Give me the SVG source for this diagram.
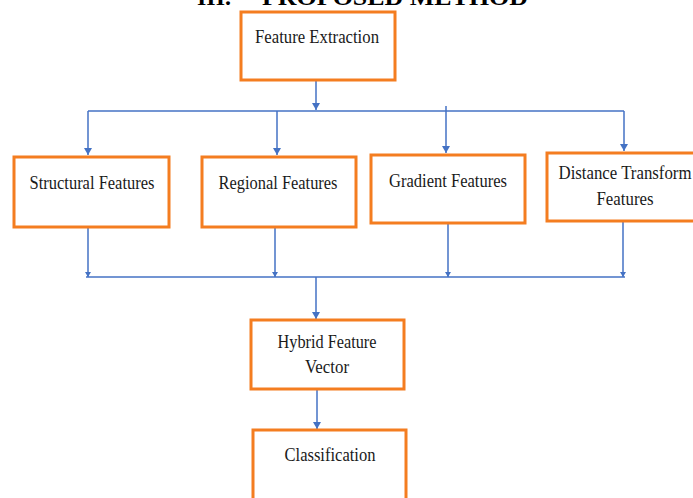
<svg xmlns="http://www.w3.org/2000/svg" width="693" height="498" viewBox="0 0 693 498">
<defs>
<marker id="ah" markerUnits="userSpaceOnUse" markerWidth="8" markerHeight="8" viewBox="0 0 8 8" refX="4" refY="8" orient="auto-start-reverse">
<path d="M0,0 L8,0 L4,8 Z" fill="#4472C4" transform="rotate(0)"/>
</marker>
<style>
.box{fill:#fff;stroke:#F47D20;stroke-width:3}
.lbl{font-family:"Liberation Serif","Times New Roman",serif;font-size:18px;fill:#1a1a1a;text-anchor:middle}
.title{font-family:"Liberation Serif","Times New Roman",serif;font-size:24px;font-weight:bold;fill:#000}
.ln{stroke:#4472C4;stroke-width:1.5;fill:none}
.ar{stroke:#4472C4;stroke-width:1.5;fill:none}
</style>
</defs>
<rect width="693" height="498" fill="#fff"/>
<text class="title" x="197" y="5" textLength="34" lengthAdjust="spacingAndGlyphs">III.</text>
<text class="title" x="262" y="5" textLength="266" lengthAdjust="spacingAndGlyphs">PROPOSED METHOD</text>

<g id="connectors">
<line class="ln" x1="316" y1="80" x2="316" y2="110"/>
<path d="M312,103 L320,103 L316,110 Z" fill="#4472C4"/>
<line class="ln" x1="88" y1="111" x2="624" y2="111"/>
<line class="ln" x1="88" y1="111" x2="88" y2="155"/>
<path d="M84,148 L92,148 L88,155 Z" fill="#4472C4"/>
<line class="ln" x1="277" y1="111" x2="277" y2="155"/>
<path d="M273,148 L281,148 L277,155 Z" fill="#4472C4"/>
<line class="ln" x1="446" y1="106" x2="446" y2="153"/>
<path d="M442,146 L450,146 L446,153 Z" fill="#4472C4"/>
<line class="ln" x1="624" y1="111" x2="624" y2="151"/>
<path d="M620,144 L628,144 L624,151 Z" fill="#4472C4"/>

<line class="ln" x1="88" y1="228" x2="88" y2="277"/>
<path d="M85,272 L91,272 L88,277 Z" fill="#4472C4"/>
<line class="ln" x1="275" y1="228" x2="275" y2="277"/>
<path d="M272,272 L278,272 L275,277 Z" fill="#4472C4"/>
<line class="ln" x1="448" y1="224" x2="448" y2="277"/>
<path d="M445,272 L451,272 L448,277 Z" fill="#4472C4"/>
<line class="ln" x1="623" y1="222" x2="623" y2="277"/>
<path d="M620,272 L626,272 L623,277 Z" fill="#4472C4"/>
<line class="ln" x1="86" y1="277" x2="625" y2="277"/>

<line class="ln" x1="316" y1="277" x2="316" y2="319"/>
<path d="M312,312 L320,312 L316,319 Z" fill="#4472C4"/>
<line class="ln" x1="317" y1="390" x2="317" y2="429"/>
<path d="M313,422 L321,422 L317,429 Z" fill="#4472C4"/>
</g>

<g id="feature-extraction">
<rect class="box" x="241" y="12" width="154" height="68"/>
<text class="lbl" x="317" y="43" textLength="124" lengthAdjust="spacingAndGlyphs">Feature Extraction</text>
</g>
<g id="structural-features">
<rect class="box" x="14" y="157" width="155" height="70"/>
<text class="lbl" x="92" y="189" textLength="125" lengthAdjust="spacingAndGlyphs">Structural Features</text>
</g>
<g id="regional-features">
<rect class="box" x="202" y="157" width="154" height="70"/>
<text class="lbl" x="278" y="189" textLength="119" lengthAdjust="spacingAndGlyphs">Regional Features</text>
</g>
<g id="gradient-features">
<rect class="box" x="371" y="155" width="154" height="68"/>
<text class="lbl" x="448" y="187" textLength="118" lengthAdjust="spacingAndGlyphs">Gradient Features</text>
</g>
<g id="distance-transform-features">
<rect class="box" x="547" y="153" width="154" height="68"/>
<text class="lbl" x="625" y="179" textLength="133" lengthAdjust="spacingAndGlyphs">Distance Transform</text>
<text class="lbl" x="625" y="205" textLength="57" lengthAdjust="spacingAndGlyphs">Features</text>
</g>
<g id="hybrid-feature-vector">
<rect class="box" x="251" y="320" width="153" height="69"/>
<text class="lbl" x="327" y="348" textLength="99" lengthAdjust="spacingAndGlyphs">Hybrid Feature</text>
<text class="lbl" x="327" y="373" textLength="44" lengthAdjust="spacingAndGlyphs">Vector</text>
</g>
<g id="classification">
<rect class="box" x="253" y="430" width="153" height="80"/>
<text class="lbl" x="330" y="461" textLength="91" lengthAdjust="spacingAndGlyphs">Classification</text>
</g>
</svg>
